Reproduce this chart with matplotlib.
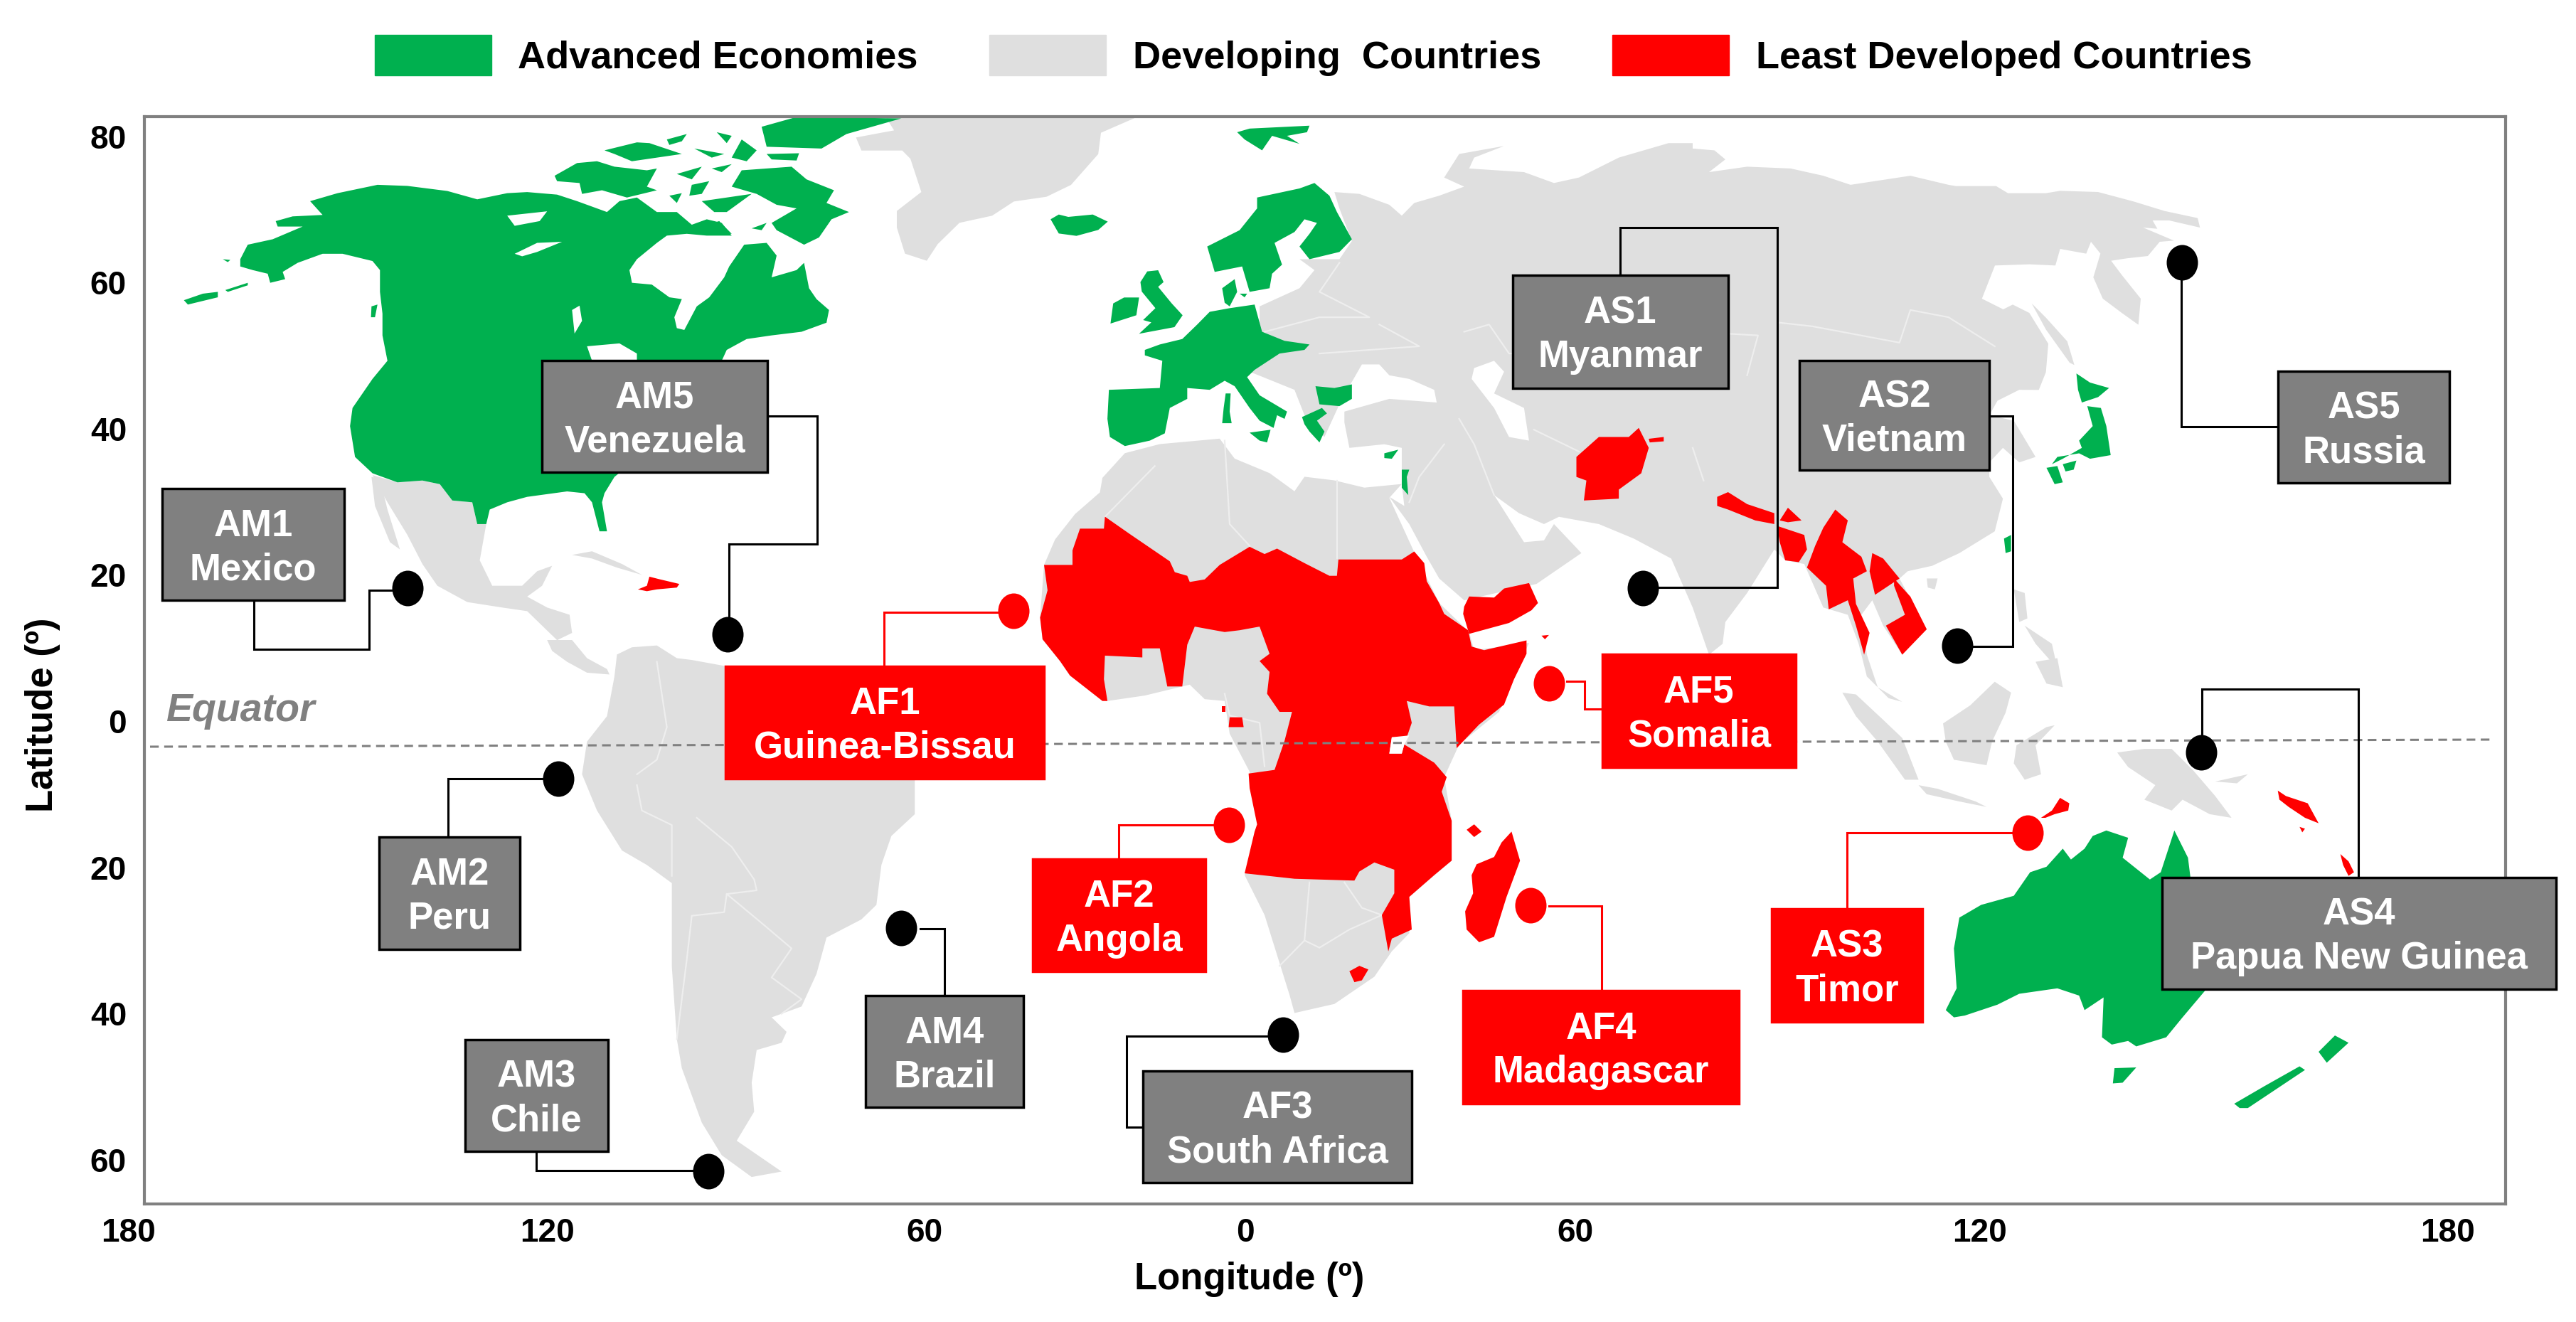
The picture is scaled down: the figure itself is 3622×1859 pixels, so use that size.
import numpy as np
import matplotlib
matplotlib.use("Agg")
import matplotlib.pyplot as plt
from matplotlib.patches import Patch, Rectangle
from matplotlib.path import Path
from matplotlib.transforms import Affine2D

plt.rcParams['font.family'] = ['Liberation Sans', 'DejaVu Sans']
plt.rcParams['font.weight'] = 'bold'

GREEN = '#00b04f'
LAND = '#dfdfdf'
RED = '#ff0000'
BOX = '#808080'
EDGE = '#808080'

# axis labels as printed, the longitude labels are not evenly spaced on the map
LON_TICKS = [-180, -120, -60, 0, 60, 120, 180]
LON_PX = [180, 769, 1300, 1751, 2215, 2784, 3442]
LAT_TICKS = [80, 60, 40, 20, 0, -20, -40, -60]

# sites: label, marker longitude, marker latitude
SITE_NAMES = ['AM1\nMexico', 'AM2\nPeru', 'AM3\nChile', 'AM4\nBrazil', 'AM5\nVenezuela',
              'AF1\nGuinea-Bissau', 'AF2\nAngola', 'AF3\nSouth Africa', 'AF4\nMadagascar', 'AF5\nSomalia',
              'AS1\nMyanmar', 'AS2\nVietnam', 'AS3\nTimor', 'AS4\nPapua New Guinea', 'AS5\nRussia']
SITE_LON = [-140, -118.2, -94.4, -63.7, -91.3, -43.4, -3.1, 6.9, 51.9, 55.2, 70, 116.6, 126.1, 148.4, 145.9]
SITE_LAT = [18.2, -7.9, -61.6, -28.3, 11.9, 15.1, -14.2, -42.9, -25.2, 5.2, 18.2, 10.3, -15.3, -4.3, 62.7]
SITE_RED = [0, 0, 0, 0, 0, 1, 1, 0, 1, 1, 0, 0, 1, 0, 0]

A = (180, 140, 1.4255, 1.96)
B = (1280, 140, 1.4255, 1.96)
C = (2380, 140, 1.3067, 1.96)
D = (180, 900, 1.4255, 1.96)
E = (1280, 700, 1.4255, 1.96)
F = (2380, 900, 1.3067, 1.96)
G = (1150, 170, 2.613, 3)
H = (2750, 250, 3, 3)


def read(grid, pts):
    arr = np.array(pts, dtype=float)
    return np.column_stack([grid[0] + arr[:, 0] / grid[2], grid[1] + arr[:, 1] / grid[3]])


north_america = read(A, [(225, 440), (240, 400), (290, 385), (350, 350), (300, 350), (296, 335), (330, 322), (390, 318),
    (365, 280), (420, 258), (500, 235), (560, 238), (640, 252), (700, 275), (760, 258), (800, 255), (860, 262), (900, 280),
    (960, 310), (985, 280), (1020, 270), (1060, 310), (1100, 310), (1130, 345), (1160, 330), (1190, 340), (1210, 375),
    (1160, 375), (1120, 370), (1080, 375), (1060, 395), (1020, 440), (1005, 470), (1010, 505), (1050, 510), (1085, 545),
    (1110, 550), (1095, 600), (1100, 630), (1115, 635), (1140, 570), (1165, 545), (1195, 490), (1205, 460), (1235, 400),
    (1280, 395), (1300, 430), (1290, 490), (1340, 470), (1355, 450), (1365, 520), (1380, 550), (1405, 580), (1400, 615),
    (1350, 640), (1290, 650), (1240, 660), (1200, 690), (1190, 720), (1100, 900), (975, 1040), (955, 1085), (950, 1110),
    (960, 1190), (945, 1190), (930, 1110), (915, 1085), (880, 1080), (800, 1095), (760, 1110), (725, 1130), (718, 1170),
    (700, 1170), (690, 1110), (650, 1105), (625, 1060), (590, 1050), (540, 1055), (490, 1030), (455, 985), (445, 900),
    (450, 850), (490, 770), (520, 720), (510, 650), (510, 590), (505, 530), (505, 470), (490, 445), (430, 425), (390, 425),
    (340, 450), (310, 475), (315, 495), (285, 505), (280, 480), (250, 470), (225, 460)])
arctic_islands = [read(A, p) for p in [
    [(855, 210), (900, 175), (940, 170), (975, 185), (1040, 195), (1060, 190), (1040, 240), (1060, 250), (1000, 270), (950, 250), (910, 260), (905, 230), (860, 225)],
    [(1210, 240), (1230, 195), (1330, 185), (1360, 220), (1415, 250), (1400, 285), (1445, 310), (1410, 330), (1385, 380), (1355, 400), (1300, 360), (1290, 340), (1340, 300), (1300, 290), (1260, 260)],
    [(1340, 48), (1550, 52), (1440, 95), (1390, 135), (1280, 130), (1270, 75)],
    [(1280, 150), (1345, 148), (1340, 168), (1290, 165)],
    [(955, 140), (1020, 118), (1045, 120), (1110, 150), (1060, 160), (1010, 170), (975, 150)],
    [(1080, 110), (1120, 95), (1110, 115), (1085, 125)],
    [(1135, 135), (1195, 150), (1170, 160)],
    [(1180, 90), (1210, 100), (1200, 120)],
    [(1230, 110), (1260, 140), (1240, 170), (1210, 160)],
    [(1100, 205), (1150, 185), (1130, 220)],
    [(1170, 190), (1210, 178), (1190, 200)],
    [(1130, 235), (1165, 225), (1150, 260), (1125, 265)],
    [(1085, 265), (1110, 258), (1100, 285)],
    [(1150, 280), (1250, 260), (1200, 310), (1175, 310)],
    [(1250, 355), (1280, 340), (1270, 360)],
    [(1160, 345), (1185, 335), (1210, 370), (1170, 370)],
    [(488, 570), (500, 565), (495, 600), (487, 600)],
    [(112, 553), (150, 535), (180, 530), (180, 545), (120, 565)],
    [(195, 525), (240, 505), (240, 512), (200, 530)],
    [(190, 440), (205, 442), (200, 448)],
]]
europe_main = read(B, [(470, 690), (500, 675), (545, 660), (575, 620), (600, 585), (640, 575), (690, 565), (705, 640), (750, 665),
    (800, 675), (790, 690), (740, 700), (690, 745), (675, 765), (700, 815), (755, 860), (750, 880), (735, 870), (728, 905),
    (700, 885), (680, 850), (650, 790), (630, 775), (600, 800), (555, 795), (555, 825), (520, 850), (510, 920), (480, 940),
    (430, 955), (400, 930), (395, 880), (398, 800), (500, 795), (505, 720), (470, 705)])
green_small = [read(B, p) for p in [
    [(655, 90), (680, 80), (800, 72), (795, 90), (755, 100), (780, 122), (725, 100), (705, 140), (670, 110)],
    [(595, 405), (660, 360), (695, 300), (695, 270), (780, 245), (810, 230), (840, 265), (855, 310), (885, 385), (860, 420), (800, 440), (780, 405), (800, 370), (815, 340), (790, 330), (770, 365), (730, 395), (745, 455), (725, 480), (720, 520), (680, 530), (665, 460), (610, 475)],
    [(625, 520), (650, 495), (655, 530), (640, 570), (630, 560)],
    [(660, 535), (675, 535), (670, 545)],
    [(680, 918), (722, 910), (715, 945), (700, 940)],
    [(632, 810), (642, 810), (640, 860), (644, 892), (625, 892), (628, 850)],
    [(812, 790), (850, 795), (885, 785), (885, 825), (860, 845), (820, 840)],
    [(785, 875), (825, 850), (835, 865), (815, 885), (830, 915), (820, 945), (800, 915), (790, 895)],
    [(950, 975), (978, 965), (965, 990), (950, 988)],
    [(985, 1020), (1000, 1020), (995, 1040), (998, 1090), (985, 1070)],
]] + [read(G, p) for p in [
    [(855, 415), (885, 395), (920, 405), (1010, 395), (1065, 425), (1030, 460), (950, 485), (885, 475)],
    [(1210, 635), (1250, 630), (1270, 680), (1250, 700), (1300, 770), (1340, 820), (1310, 870), (1180, 898), (1225, 850), (1195, 840), (1240, 790), (1190, 720), (1185, 680)],
    [(1125, 745), (1180, 745), (1170, 820), (1075, 855), (1085, 770)],
]]
japan_taiwan = [read(C, p) for p in [
    [(705, 755), (730, 780), (765, 795), (745, 820), (715, 835), (708, 800)],
    [(725, 845), (750, 850), (760, 900), (768, 980), (730, 990), (710, 975), (670, 985), (660, 1005), (680, 990), (715, 960), (710, 940), (735, 900)],
    [(650, 1015), (670, 1010), (680, 1055), (665, 1060)],
    [(680, 1005), (705, 995), (700, 1020), (685, 1025)],
    [(572, 1210), (585, 1200), (585, 1245), (575, 1250)],
]]
australia = read(F, [(465, 1020), (485, 960), (480, 850), (490, 765), (530, 730), (590, 705), (620, 640), (650, 625), (680, 575),
    (695, 605), (720, 575), (735, 540), (760, 525), (800, 545), (790, 600), (840, 660), (860, 640), (885, 525), (910, 600),
    (915, 660), (945, 960), (900, 1040), (870, 1095), (815, 1120), (800, 1105), (770, 1115), (752, 1095), (755, 985),
    (720, 1020), (710, 980), (670, 960), (600, 975), (560, 1005), (500, 1035), (480, 1040)])
oceania_small = [read(F, p) for p in [
    [(775, 1180), (815, 1178), (790, 1220), (772, 1222)],
    [(995, 1278), (1050, 1230), (1115, 1175), (1125, 1185), (1075, 1235), (1020, 1290), (1005, 1290)],
    [(1150, 1135), (1180, 1090), (1205, 1110), (1165, 1165)],
]]

greenland = read(G, [(250, -15), (1170, -15), (1040, 50), (1030, 140), (930, 270), (840, 320), (720, 340), (640, 400), (520, 430), (440, 520),
    (400, 590), (320, 560), (290, 450), (290, 380), (380, 300), (340, 160), (310, 125), (160, 125), (140, 70), (280, 40)])
mexico = read(A, [(490, 1035), (540, 1055), (590, 1050), (625, 1060), (650, 1105), (690, 1110), (700, 1170), (718, 1170), (705, 1270),
    (730, 1340), (790, 1340), (820, 1300), (850, 1285), (830, 1340), (800, 1370), (840, 1400), (885, 1420), (890, 1470), (860, 1490),
    (830, 1450), (800, 1410), (750, 1400), (680, 1385), (620, 1340), (590, 1280), (560, 1200), (520, 1110)])
baja = read(A, [(488, 1040), (505, 1045), (520, 1130), (545, 1240), (525, 1220), (495, 1120)])
cuba = read(A, [(890, 1255), (930, 1245), (990, 1280), (1030, 1310), (980, 1290), (930, 1265)])
central_america = read(D, [(840, 0), (890, 0), (920, 50), (960, 80), (965, 95), (920, 90), (880, 60), (850, 30)])
south_america = read(D, [(980, 40), (1010, 20), (1060, 15), (1100, 50), (1130, 55), (1190, 70), (1400, 130), (1577, 300), (1577, 480),
    (1530, 540), (1510, 620), (1500, 730), (1470, 770), (1400, 820), (1380, 920), (1350, 1010), (1290, 1040), (1320, 1080), (1310, 1110),
    (1260, 1130), (1250, 1220), (1255, 1300), (1220, 1380), (1310, 1465), (1250, 1480), (1190, 1420), (1150, 1330), (1110, 1180),
    (1100, 1100), (1090, 900), (1090, 670), (1040, 620), (990, 580), (940, 470), (910, 370), (920, 280), (960, 210), (975, 100)])
eurasia = np.vstack([
    read(B, [(850, 255), (900, 260), (960, 290), (985, 320), (1010, 285), (1060, 265), (1110, 240), (1070, 215), (1100, 150), (1190, 128),
             (1130, 160), (1120, 190), (1230, 200), (1290, 230), (1340, 215), (1420, 160), (1520, 120), (1568, 120)]),
    read(C, [(0, 135), (40, 140), (60, 165), (30, 200), (100, 185), (180, 190), (240, 210), (290, 235), (400, 210), (470, 235)]),
    read(H, [(0, 35), (170, 35), (220, 65), (380, 65), (440, 55), (600, 60), (750, 100), (880, 140), (1020, 170), (1030, 210), (900, 180),
             (830, 180), (850, 215), (790, 210), (920, 265), (860, 270), (810, 330), (720, 340), (655, 350), (700, 410), (780, 510), (770, 620),
             (700, 570), (620, 510), (580, 420), (610, 320), (570, 270), (550, 320), (440, 300), (420, 370), (310, 365), (165, 370), (110, 510),
             (200, 555), (240, 535), (310, 570), (390, 700), (380, 820), (350, 895)]),
    read(C, [(600, 800), (560, 830), (545, 870), (590, 885), (630, 985), (600, 1000), (570, 960),
             (545, 1000), (545, 1040), (570, 1100), (555, 1190), (490, 1250), (440, 1285), (395, 1300), (380, 1320), (430, 1460), (385, 1530),
             (350, 1450), (330, 1380), (310, 1420), (320, 1530), (340, 1620), (385, 1660), (360, 1650), (320, 1590), (305, 1500), (285, 1420),
             (240, 1400), (205, 1280), (170, 1270), (150, 1240), (100, 1360), (60, 1440), (55, 1500), (30, 1530), (0, 1400)]),
    read(B, [(1525, 1265), (1450, 1210), (1380, 1170), (1300, 1150), (1270, 1170), (1220, 1140), (1170, 1090), (1230, 1220), (1270, 1215),
             (1290, 1170), (1345, 1250), (1255, 1335), (1110, 1380), (1060, 1320), (1035, 1260), (1000, 1170), (960, 1095), (990, 1120),
             (985, 1060), (985, 960), (950, 950), (880, 960), (870, 890), (870, 860), (960, 825), (1055, 835), (1050, 800), (1000, 770),
             (960, 760), (940, 730), (905, 730), (880, 790), (860, 840), (830, 930), (790, 870), (770, 800), (680, 750), (700, 660), (700, 570),
             (780, 520), (810, 470), (780, 440), (860, 440), (885, 390), (860, 300)]),
])
sakhalin = read(H, [(320, 530), (380, 590), (470, 690), (500, 790), (480, 780), (380, 640)])
africa = read(E, [(430, -123), (500, -148), (620, -163), (650, -108), (720, -68), (770, -18), (790, -58), (850, -48), (910, -28), (985, -38),
    (960, 0), (1010, 150), (1060, 290), (1120, 370), (1130, 420), (1240, 400), (1180, 590), (1100, 680), (1070, 770), (1085, 890), (1085, 1000),
    (1000, 1100), (1000, 1200), (965, 1250), (930, 1320), (850, 1395), (770, 1420), (760, 1370), (710, 1150), (670, 1040), (700, 900),
    (680, 800), (680, 755), (640, 650), (630, 560), (590, 555), (560, 515), (470, 545), (395, 560), (320, 490), (300, 450), (265, 390),
    (260, 330), (268, 185), (290, 115), (330, 45), (380, -15), (385, -55)])
gray_small = [read(F, p) for p in [
    [(275, 145), (300, 150), (350, 220), (385, 270), (415, 385), (390, 385), (340, 280), (300, 210)],
    [(415, 400), (450, 410), (520, 445), (540, 460), (490, 445), (430, 425)],
    [(460, 230), (510, 180), (555, 115), (585, 145), (575, 200), (550, 280), (540, 345), (480, 330), (465, 280)],
    [(595, 290), (650, 240), (665, 235), (630, 290), (640, 370), (610, 385), (590, 340)],
    [(780, 310), (830, 300), (880, 300), (920, 360), (960, 430), (990, 490), (950, 480), (900, 440), (880, 470), (830, 440), (850, 400), (800, 350)],
    [(960, 390), (1020, 370), (1000, 395)],
    [(630, 60), (670, 50), (680, 130), (650, 120)],
]] + [read(C, p) for p in [
    [(590, 1350), (610, 1360), (615, 1430), (600, 1440)],
    [(610, 1450), (660, 1500), (670, 1568), (630, 1500)],
    [(430, 1320), (450, 1320), (445, 1350), (432, 1345)],
]]

central_africa = read(E, [(268, 185), (325, 185), (325, 145), (340, 85), (388, 85), (390, 52), (440, 100), (520, 175), (530, 205), (555, 215),
    (560, 232), (590, 225), (620, 185), (680, 135), (710, 155), (735, 140), (790, 180), (840, 215), (855, 215), (858, 170), (985, 170),
    (1010, 148), (1030, 180), (1035, 230), (1060, 290), (1070, 320), (1118, 365), (1125, 410), (1150, 420), (1235, 393), (1235, 430),
    (1210, 500), (1190, 570), (1140, 625), (1095, 690), (1090, 575), (1060, 575), (1040, 575), (995, 560), (1005, 620), (995, 660),
    (965, 660), (960, 705), (985, 705), (990, 680), (1050, 730), (1075, 770), (1065, 810), (1085, 890), (1085, 1000), (1050, 1040),
    (1000, 1100), (1005, 1190), (965, 1215), (958, 1250), (945, 1150), (970, 1090), (970, 1025), (930, 1005), (900, 1030), (890, 1055),
    (770, 1050), (670, 1035), (690, 920), (695, 900), (680, 800), (678, 760), (730, 750), (750, 670), (765, 590), (740, 590), (715, 540),
    (720, 480), (700, 450), (720, 430), (700, 355), (660, 365), (630, 370), (570, 355), (555, 405), (545, 520), (515, 520), (500, 415),
    (465, 415), (465, 440), (390, 435), (388, 500), (395, 560), (385, 560), (320, 490), (300, 450), (265, 390), (260, 330), (275, 255)])
red_small = [read(E, p) for p in [
    [(640, 605), (665, 605), (668, 632), (638, 632)],
    [(625, 575), (632, 575), (632, 590), (625, 590)],
    [(880, 1305), (900, 1290), (918, 1300), (905, 1330), (890, 1335)],
    [(1115, 915), (1130, 900), (1145, 920), (1130, 935)],
    [(1205, 920), (1222, 1000), (1195, 1100), (1170, 1210), (1140, 1225), (1115, 1190), (1112, 1140), (1128, 1090), (1125, 1040), (1135, 1010), (1170, 990), (1185, 950)],
    [(1265, 380), (1280, 378), (1272, 390)],
    [(1110, 300), (1120, 272), (1170, 275), (1190, 250), (1240, 235), (1258, 290), (1245, 310), (1200, 345), (1120, 375), (1108, 320)],
]] + [read(B, p) for p in [
    [(1335, 985), (1380, 930), (1440, 930), (1460, 905), (1480, 960), (1465, 1030), (1420, 1075), (1420, 1100), (1350, 1105), (1355, 1050), (1335, 1040)],
    [(1480, 935), (1510, 930), (1510, 942), (1482, 945)],
]] + [read(C, p) for p in [
    [(45, 1095), (65, 1082), (100, 1115), (150, 1140), (150, 1170), (115, 1160), (65, 1130), (45, 1120)],
    [(160, 1160), (175, 1125), (200, 1160), (175, 1165)],
    [(155, 1175), (205, 1200), (210, 1240), (195, 1275), (170, 1270), (160, 1220)],
    [(262, 1130), (285, 1160), (275, 1220), (310, 1260), (320, 1300), (295, 1320), (300, 1390), (325, 1470), (315, 1530), (300, 1450), (285, 1380), (250, 1405), (245, 1340), (210, 1290), (225, 1230), (240, 1180)],
    [(330, 1250), (350, 1265), (380, 1320), (350, 1350), (335, 1365), (325, 1300)],
    [(370, 1320), (400, 1370), (430, 1460), (385, 1530), (355, 1450), (390, 1420), (370, 1340)],
]] + [read(F, p) for p in [
    [(640, 490), (660, 470), (675, 435), (692, 450), (690, 470), (665, 480), (648, 490)],
    [(1075, 415), (1090, 430), (1110, 440), (1130, 450), (1150, 505), (1125, 490), (1095, 460), (1078, 440)],
    [(1115, 515), (1125, 520), (1120, 530)],
    [(1190, 590), (1205, 610), (1215, 640), (1205, 650), (1195, 620)],
]] + [read(A, [(1022, 1350), (1040, 1340), (1045, 1315), (1065, 1322), (1105, 1335), (1100, 1345), (1060, 1350), (1040, 1355)])]

water = [read(A, p) for p in [
    [(760, 320), (840, 308), (825, 335), (775, 348)],
    [(775, 425), (820, 395), (870, 392), (820, 420), (790, 432)],
    [(890, 580), (905, 568), (910, 610), (895, 645)],
    [(920, 680), (985, 672), (1020, 700), (1020, 720), (930, 720)],
]] + [read(B, [(1130, 740), (1170, 720), (1190, 750), (1170, 810), (1230, 850), (1240, 940), (1200, 930), (1170, 850), (1125, 770)])] + [
    read(E, [(965, 660), (1000, 655), (990, 680), (985, 705), (960, 705)])]

borders = [read(D, p) for p in [
    [(1020, 400), (1030, 470), (1090, 510), (1090, 650)],
    [(1140, 490), (1210, 570), (1255, 660), (1260, 690), (1200, 700), (1195, 750), (1130, 760), (1120, 880), (1100, 1100)],
    [(1200, 700), (1270, 780), (1330, 850), (1290, 930), (1350, 990), (1310, 1030)],
    [(1060, 60), (1080, 240), (1060, 330), (1020, 370)],
]] + [read(E, p) for p in [
    [(800, 1060), (790, 1220), (740, 1290)],
    [(870, 1060), (905, 1130), (945, 1150), (880, 1190), (820, 1240), (790, 1220)],
    [(630, 540), (640, 600), (700, 620), (710, 740)],
]] + [read(B, p) for p in [
    [(630, 940), (640, 1170), (680, 1230)],
    [(855, 1050), (855, 1265)],
    [(490, 1010), (390, 1150)],
    [(1100, 880), (1130, 950), (1170, 1090)],
    [(1070, 950), (1020, 1040), (1000, 1110)],
    [(1250, 910), (1340, 970)],
    [(1110, 640), (1160, 620), (1200, 700), (1380, 700)],
    [(710, 640), (820, 600), (920, 600), (820, 530), (860, 450)],
    [(820, 700), (1020, 680), (940, 620)],
]] + [read(C, p) for p in [
    [(160, 615), (220, 625), (380, 670), (400, 580), (470, 600), (555, 680)],
    [(0, 640), (120, 650), (100, 760)],
    [(0, 960), (20, 1050)],
]]

# leader lines and boxes, same order as SITE_NAMES
leaders = [
    read(A, [(253, 1380), (253, 1516), (483, 1516), (483, 1352), (530, 1352)]),
    read(D, [(642, 545), (642, 382), (835, 382)]),
    read(D, [(818, 1408), (818, 1462), (1135, 1462)]),
    read(E, [(20, 1187), (68, 1187), (68, 1370)]),
    read(A, [(1282, 872), (1382, 872), (1382, 1225), (1204, 1225), (1204, 1430)]),
    read(A, [(1515, 1565), (1515, 1413), (1775, 1413)]),
    read(E, [(418, 995), (418, 902), (610, 902)]),
    read(E, [(720, 1483), (433, 1483), (433, 1735), (466, 1735)]),
    read(E, [(1280, 1126), (1386, 1126), (1386, 1358)]),
    read(E, [(1316, 506), (1351, 506), (1351, 583), (1387, 583)]),
    read(C, [(-133, 485), (-133, 352), (155, 352), (155, 1345), (-100, 1345)]),
    read(C, [(545, 872), (588, 872), (588, 1507), (515, 1507)]),
    read(F, [(585, 532), (283, 532), (283, 742)]),
    read(F, [(935, 270), (935, 135), (1223, 135), (1223, 655)]),
    read(C, [(898, 500), (898, 902), (1075, 902)]),
]
boxes_px = [(228, 687, 484, 844), (533, 1177, 731, 1335), (654, 1462, 855, 1619), (1217, 1400, 1439, 1557), (762, 507, 1079, 664),
            (1020, 937, 1468, 1095), (1452, 1208, 1695, 1366), (1607, 1506, 1985, 1663), (2057, 1393, 2445, 1552), (2253, 920, 2525, 1079),
            (2127, 387, 2430, 546), (2530, 507, 2797, 661), (2491, 1278, 2703, 1437), (3040, 1234, 3594, 1391), (3203, 522, 3444, 679)]
equator_px = [(211, 1050), (3505, 1040)]
equator_label_px = (233, 1000)

lon_all = [-240] + LON_TICKS + [240]
px_all = [-409] + LON_PX + [4100]


def to_lon(px):
    return np.interp(px, px_all, lon_all)


def to_lat(py):
    return (1014 - np.asarray(py, dtype=float)) / 10.28


def fill_land(ax, outline, color, z):
    ax.fill(to_lon(outline[:, 0]), to_lat(outline[:, 1]), color=color, lw=0, zorder=z)


fig = plt.figure(figsize=(36.22, 18.59), dpi=100)
ax = fig.add_axes([203 / 3622, 1 - 1693 / 1859, 3320 / 3622, 1529 / 1859])
ax.set_xscale('function', functions=(lambda v: np.interp(v, lon_all, px_all), lambda v: np.interp(v, px_all, lon_all)))
ax.set_xlim(to_lon(203), to_lon(3523))
ax.set_ylim(to_lat(1693), to_lat(164))

for part in [greenland, mexico, baja, cuba, central_america, south_america, eurasia, sakhalin, africa] + gray_small:
    fill_land(ax, part, LAND, 1)
for line in borders:
    ax.plot(to_lon(line[:, 0]), to_lat(line[:, 1]), color='#eeeeee', lw=1.6, zorder=1.2)
for part in [north_america, europe_main, australia] + arctic_islands + green_small + japan_taiwan + oceania_small:
    fill_land(ax, part, GREEN, 1.5)
for part in [central_africa] + red_small:
    fill_land(ax, part, RED, 1.5)
for part in water:
    fill_land(ax, part, 'white', 1.7)

eq = np.array(equator_px)
ax.plot(to_lon(eq[:, 0]), to_lat(eq[:, 1]), color='#808080', lw=2.2, ls=(0, (4, 2.5)), zorder=2)
ax.text(to_lon(equator_label_px[0]), to_lat(equator_label_px[1]), 'Equator', color='#808080', style='italic',
        fontsize=40, va='center', ha='left', zorder=2)

# slightly taller than wide, like the dots in the picture
dot = Path.unit_circle().transformed(Affine2D().scale(0.88, 1))

for i, name in enumerate(SITE_NAMES):
    col = RED if SITE_RED[i] else 'black'
    line = leaders[i]
    ax.plot(to_lon(line[:, 0]), to_lat(line[:, 1]), color=col, lw=2.2, zorder=3, solid_joinstyle='miter', clip_on=False)
    ax.plot(SITE_LON[i], SITE_LAT[i], marker=dot, color=col, ms=36, mew=0, zorder=4)
    x0, y0, x1, y1 = boxes_px[i]
    lon0, lon1 = to_lon(x0), to_lon(x1)
    lat0, lat1 = to_lat(y1), to_lat(y0)
    ax.add_patch(Rectangle((lon0, lat0), lon1 - lon0, lat1 - lat0, facecolor=RED if SITE_RED[i] else BOX,
                           edgecolor=RED if SITE_RED[i] else 'black', lw=2.5, zorder=5, clip_on=False))
    ax.text(to_lon((x0 + x1) / 2), to_lat((y0 + y1) / 2 + 5), name, color='white', fontsize=38, ha='center', va='center',
            linespacing=1.29, zorder=6, clip_on=False)

ax.set_xticks(LON_TICKS[1:])
ax.set_xticklabels([str(abs(v)) for v in LON_TICKS[1:]])
ax.text(LON_TICKS[0], -0.0124, str(abs(LON_TICKS[0])), transform=ax.get_xaxis_transform(), fontsize=33, ha='center', va='top')
ax.set_yticks(LAT_TICKS)
ax.set_yticklabels([str(abs(v)) for v in LAT_TICKS])
ax.tick_params(axis='x', length=0, pad=14, labelsize=33)
ax.tick_params(axis='y', length=0, pad=18, labelsize=33)
for s in ax.spines.values():
    s.set_color(EDGE)
    s.set_linewidth(3)

ax.set_xlabel('Longitude (º)', fontsize=38, fontweight='bold')
ax.xaxis.set_label_coords(0.468, -0.053)
ax.set_ylabel('Latitude (º)', fontsize=38, fontweight='bold')
ax.yaxis.set_label_coords(-0.0355, 0.45)

handles = [Patch(color=GREEN, label='Advanced Economies'), Patch(color=LAND, label='Developing  Countries'),
           Patch(color=RED, label='Least Developed Countries')]
fig.legend(handles=handles, ncol=3, loc='center left', bbox_to_anchor=(527 / 3622, 1 - 78 / 1859), frameon=False, fontsize=39,
           handlelength=3.02, handleheight=1.25, handletextpad=0.7, columnspacing=1.85, borderpad=0, borderaxespad=0)

fig.savefig('out.png', dpi=100)
